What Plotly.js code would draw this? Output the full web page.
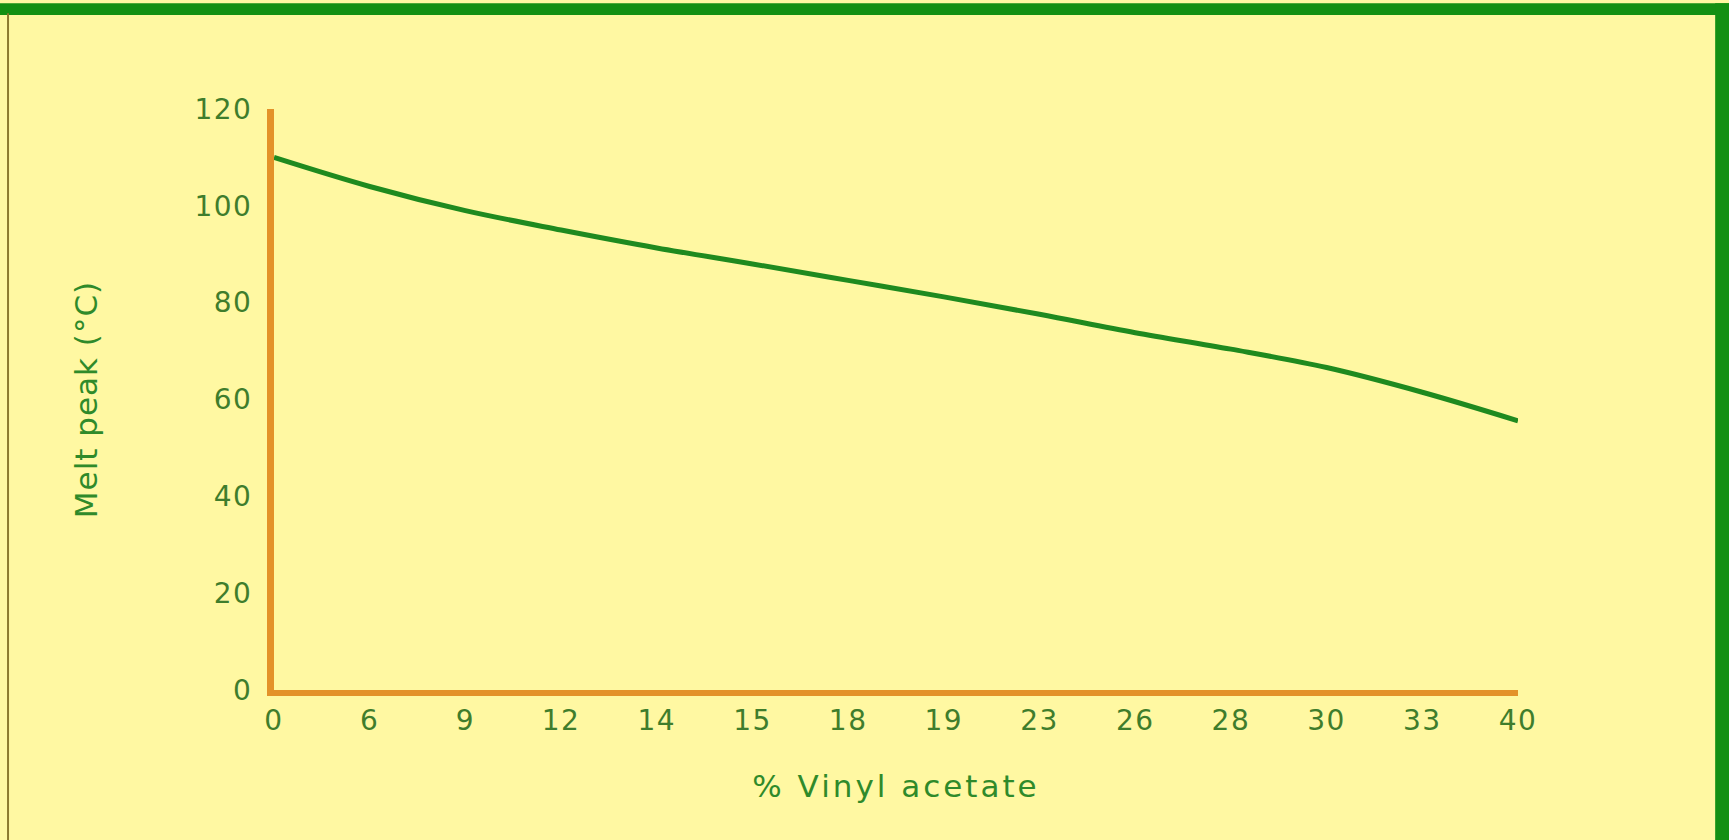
<!DOCTYPE html>
<html>
<head>
<meta charset="utf-8">
<script src="https://cdn.plot.ly/plotly-3.0.1.min.js"></script>
<style>
  html, body { margin: 0; padding: 0; background: #FFF8A2; }
  #chart { width: 1729px; height: 840px; }
  #chart .xtick text, #chart .ytick text { letter-spacing: 1.5px; }
  #chart .g-xtitle text { letter-spacing: 3px; }
  #chart .g-ytitle text { letter-spacing: 1px; }
</style>
</head>
<body>
<div id="chart"></div>
<script>
// Category labels on the x axis (% vinyl acetate)
const vinylAcetate = ["0", "6", "9", "12", "14", "15", "18", "19", "23", "26", "28", "30", "33", "40"];
// Melt peak temperature (°C) read at each category
const meltPeak = [110, 104, 99, 95, 91.3, 88, 84.6, 81.2, 77.6, 73.8, 70.4, 66.6, 61.5, 55.6];
// Y tick values
const yTicks = [0, 20, 40, 60, 80, 100, 120];

const textGreen = "#3F7D2C";
const titleGreen = "#2F8A2A";
const axisOrange = "#E3922A";
const lineGreen = "#1F8A1F";
const bg = "#FFF8A2";

const trace = {
  x: vinylAcetate,
  y: meltPeak,
  type: "scatter",
  mode: "lines",
  line: { color: lineGreen, width: 5, shape: "spline", smoothing: 1 },
  hoverinfo: "x+y",
  showlegend: false
};

const layout = {
  width: 1729,
  height: 840,
  margin: { l: 274, r: 211, t: 109, b: 150 },
  paper_bgcolor: bg,
  plot_bgcolor: bg,
  font: { family: "DejaVu Sans, sans-serif", color: textGreen },
  xaxis: {
    type: "category",
    range: [0, 13],
    showgrid: false,
    zeroline: false,
    showline: true,
    linecolor: axisOrange,
    linewidth: 6,
    ticks: "",
    ticklabelstandoff: 0,
    tickfont: { size: 28, color: textGreen, family: "DejaVu Sans, sans-serif" },
    title: {
      text: "% Vinyl acetate",
      font: { size: 31, color: titleGreen, family: "DejaVu Sans, sans-serif" },
      standoff: 42
    }
  },
  yaxis: {
    range: [0, 120],
    tickvals: yTicks,
    showgrid: false,
    zeroline: false,
    showline: true,
    linecolor: axisOrange,
    linewidth: 7,
    ticks: "",
    ticklabelstandoff: 9,
    tickfont: { size: 28, color: textGreen, family: "DejaVu Sans, sans-serif" },
    title: {
      text: "Melt peak (°C)",
      font: { size: 31, color: titleGreen, family: "DejaVu Sans, sans-serif" },
      standoff: 95
    }
  },
  shapes: [
    // top green frame band
    { type: "rect", xref: "paper", yref: "paper", x0: -0.23, x1: 1.18, y0: 1.162, y1: 1.182,
      fillcolor: "#139013", line: { width: 0 }, layer: "above" },
    // right green frame band
    { type: "rect", xref: "paper", yref: "paper", x0: 1.1585, x1: 1.18, y0: -0.26, y1: 1.182,
      fillcolor: "#139013", line: { width: 0 }, layer: "above" },
    // thin left frame line
    { type: "line", xref: "paper", yref: "paper", x0: -0.2138, x1: -0.2138, y0: -0.26, y1: 1.165,
      line: { color: "#8C7A2E", width: 2 }, layer: "above" }
  ]
};

Plotly.newPlot("chart", [trace], layout, { displayModeBar: false });
</script>
</body>
</html>
